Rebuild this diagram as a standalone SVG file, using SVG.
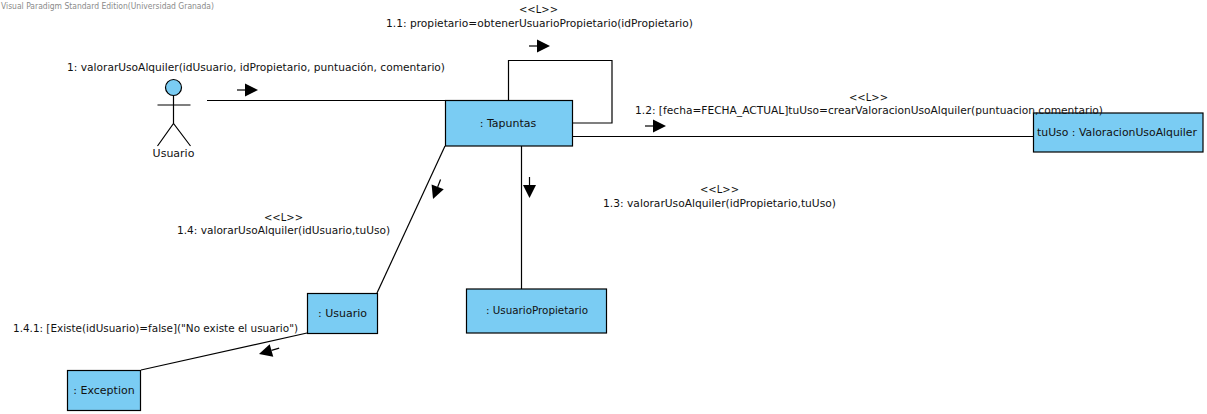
<svg xmlns="http://www.w3.org/2000/svg" width="1207" height="414" viewBox="0 0 1207 414">
<defs>
<style>
text{font-family:"DejaVu Sans","Liberation Sans",sans-serif;font-size:11px;fill:#111}
.n{fill:#7accf3;stroke:#000;stroke-width:1.2}
.c{fill:none;stroke:#000;stroke-width:1.2}
.m{text-anchor:middle}
</style>
<g id="dir"><path class="c" d="M-16 0H-8"/><path d="M-8-6.500L5 0L-8 6.500z" fill="#000"/></g>
</defs>
<rect width="1207" height="414" fill="#fff"/>
<text x="1" y="9" textLength="213" lengthAdjust="spacingAndGlyphs" style="font-size:8px;fill:#8a8a8a">Visual Paradigm Standard Edition(Universidad Granada)</text>
<g id="connectors">
<path class="c" d="M207 100.500H445"/>
<path class="c" d="M508.500 100V60.500H612V123H573"/>
<path class="c" d="M573 136.500H1034"/>
<path class="c" d="M521.500 146V289"/>
<path class="c" d="M445 146L377 293"/>
<path class="c" d="M307 333L141 370"/>
<use href="#dir" x="253" y="90"/>
<use href="#dir" x="545" y="46"/>
<use href="#dir" x="661" y="126"/>
<use href="#dir" transform="translate(529.500 193) rotate(90)"/>
<use href="#dir" transform="translate(434.800 194.400) rotate(111)"/>
<use href="#dir" transform="translate(263.800 352.600) rotate(164)"/>
</g>
<g id="usuario-actor">
<circle class="n" cx="173.500" cy="87.500" r="8"/>
<path class="c" d="M173.500 96V123.500M157.500 105H190.500M157.500 146L173.500 123.500L190.500 146"/>
<text class="m" x="173.500" y="157">Usuario</text>
</g>
<g id="tapuntas"><rect class="n" x="445.500" y="100.500" width="127" height="45.500"/><text class="m" x="508" y="127">: Tapuntas</text></g>
<g id="tuUso"><rect class="n" x="1033.500" y="113" width="169.500" height="39"/><text x="1037" y="136" textLength="160" lengthAdjust="spacingAndGlyphs">tuUso : ValoracionUsoAlquiler</text></g>
<g id="usuarioPropietario"><rect class="n" x="466.500" y="289" width="140" height="44"/><text class="m" x="537" y="314" textLength="102" lengthAdjust="spacingAndGlyphs">: UsuarioPropietario</text></g>
<g id="usuario"><rect class="n" x="307.500" y="293.500" width="70" height="40"/><text class="m" x="342.500" y="317">: Usuario</text></g>
<g id="exception"><rect class="n" x="67.500" y="370.500" width="73" height="40"/><text class="m" x="104" y="394">: Exception</text></g>
<g id="labels">
<text x="67" y="71" textLength="378" lengthAdjust="spacingAndGlyphs">1: valorarUsoAlquiler(idUsuario, idPropietario, puntuación, comentario)</text>
<text class="m" x="538.500" y="13" textLength="39" lengthAdjust="spacingAndGlyphs">&lt;&lt;L&gt;&gt;</text>
<text x="386" y="27" textLength="307" lengthAdjust="spacingAndGlyphs">1.1: propietario=obtenerUsuarioPropietario(idPropietario)</text>
<text class="m" x="868.500" y="101" textLength="39" lengthAdjust="spacingAndGlyphs">&lt;&lt;L&gt;&gt;</text>
<text x="635" y="114" textLength="468" lengthAdjust="spacingAndGlyphs">1.2: [fecha=FECHA_ACTUAL]tuUso=crearValoracionUsoAlquiler(puntuacion,comentario)</text>
<text class="m" x="719.500" y="193" textLength="39" lengthAdjust="spacingAndGlyphs">&lt;&lt;L&gt;&gt;</text>
<text x="603" y="207" textLength="233" lengthAdjust="spacingAndGlyphs">1.3: valorarUsoAlquiler(idPropietario,tuUso)</text>
<text class="m" x="283.500" y="221" textLength="39" lengthAdjust="spacingAndGlyphs">&lt;&lt;L&gt;&gt;</text>
<text x="177" y="234" textLength="213" lengthAdjust="spacingAndGlyphs">1.4: valorarUsoAlquiler(idUsuario,tuUso)</text>
<text x="13" y="332" textLength="285" lengthAdjust="spacingAndGlyphs">1.4.1: [Existe(idUsuario)=false]("No existe el usuario")</text>
</g>
</svg>
